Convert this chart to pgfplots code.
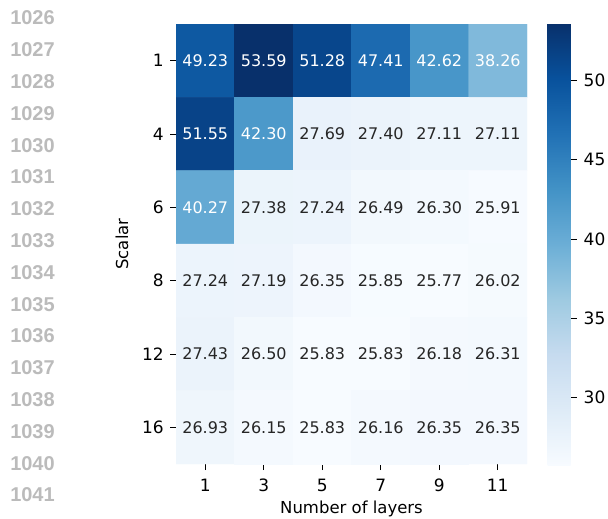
\documentclass[border=0pt]{standalone}
\usepackage{pgfplots}
\pgfplotsset{compat=1.18}
\usepackage{fontspec}
\setmainfont{DejaVu Sans}
\newfontfamily\lnfont{Liberation Sans}
\definecolor{lngray}{RGB}{187,187,187}
\definecolor{darktxt}{RGB}{38,38,38}
\pgfplotsset{
  colormap={blues}{rgb255=(247,251,255) rgb255=(222,235,247) rgb255=(198,219,239) rgb255=(158,202,225) rgb255=(107,174,214) rgb255=(66,146,198) rgb255=(33,113,181) rgb255=(8,81,156) rgb255=(8,48,107)}
}
\begin{document}
\begin{tikzpicture}
\useasboundingbox (0,0) rectangle (608bp,-519bp);
% line numbers
\foreach \n [count=\i from 0] in {1026,...,1041}{
  \node[font=\lnfont\bfseries\fontsize{20bp}{22bp}\selectfont, text=lngray, anchor=center, inner sep=0pt]
    at (32.5bp,{-(18+31.8*\i)*1bp}) {\n};
}
\begin{axis}[
  at={(176bp,-464bp)}, anchor=south west,
  scale only axis, width=351bp, height=440bp,
  colormap name=blues,
  point meta min=25.77, point meta max=53.59,
  xmin=-0.5, xmax=5.5, ymin=-0.5, ymax=5.5,
  y dir=reverse,
  enlargelimits=false,
  axis line style={draw=none},
  xtick={0,...,5}, xticklabels={1,3,5,7,9,11},
  ytick={0,...,5}, yticklabels={1,4,6,8,12,16},
  xtick pos=bottom, ytick pos=left,
  tick align=outside,
  major tick length=6bp,
  tick style={black, line width=0.8bp},
  /pgf/number format/assume math mode=true,
  ticklabel style={font=\fontsize{17bp}{20bp}\selectfont, text=black},
  xticklabel style={inner sep=0pt, anchor=north, yshift=-9bp},
  yticklabel style={inner sep=0pt, anchor=east, xshift=-6bp},
  xlabel={Number of layers},
  ylabel={Scalar},
  label style={font=\fontsize{16.5bp}{19bp}\selectfont},
  xlabel style={at={(axis description cs:0.5,0)}, anchor=base, yshift=-49bp, inner sep=0pt},
  ylabel style={at={(axis description cs:0,0.5)}, anchor=base, yshift=48bp, inner sep=0pt},
  colorbar,
  colorbar/width=23bp,
  colorbar style={
    scale only axis,
    at={(parent axis.north east)}, anchor=north west,
    xshift=12bp, yshift=1bp,
    width=23bp, height=442bp,
    axis line style={draw=none},
    ytick={30,35,40,45,50},
    ytick pos=right, yticklabel pos=right,
    tick align=outside,
    major tick length=6bp,
    tick style={black, line width=0.8bp},
    /pgf/number format/assume math mode=true,
    yticklabel style={font=\fontsize{17bp}{20bp}\selectfont, inner sep=0pt, anchor=west, xshift=7bp},
  },
]
\addplot[matrix plot*, mesh/cols=6, mesh/rows=6, point meta=explicit] table[meta=z] {
x y z
0 0 49.23
1 0 53.59
2 0 51.28
3 0 47.41
4 0 42.62
5 0 38.26
0 1 51.55
1 1 42.30
2 1 27.69
3 1 27.40
4 1 27.11
5 1 27.11
0 2 40.27
1 2 27.38
2 2 27.24
3 2 26.49
4 2 26.30
5 2 25.91
0 3 27.24
1 3 27.19
2 3 26.35
3 3 25.85
4 3 25.77
5 3 26.02
0 4 27.43
1 4 26.50
2 4 25.83
3 4 25.83
4 4 26.18
5 4 26.31
0 5 26.93
1 5 26.15
2 5 25.83
3 5 26.16
4 5 26.35
5 5 26.35
};
% white labels
\addplot[only marks, mark=*, mark size=0pt, mark options={draw=none, fill=none},
  point meta=explicit symbolic, nodes near coords,
  every node near coord/.append style={anchor=center, text=white, inner sep=0pt, font=\fontsize{16bp}{18bp}\selectfont}]
  table[meta=lab] {
x y lab
0 0 49.23
1 0 53.59
2 0 51.28
3 0 47.41
4 0 42.62
5 0 38.26
0 1 51.55
1 1 42.30
0 2 40.27
};
% dark labels
\addplot[only marks, mark=*, mark size=0pt, mark options={draw=none, fill=none},
  point meta=explicit symbolic, nodes near coords,
  every node near coord/.append style={anchor=center, text=darktxt, inner sep=0pt, font=\fontsize{16bp}{18bp}\selectfont}]
  table[meta=lab] {
x y lab
2 1 27.69
3 1 27.40
4 1 27.11
5 1 27.11
1 2 27.38
2 2 27.24
3 2 26.49
4 2 26.30
5 2 25.91
0 3 27.24
1 3 27.19
2 3 26.35
3 3 25.85
4 3 25.77
5 3 26.02
0 4 27.43
1 4 26.50
2 4 25.83
3 4 25.83
4 4 26.18
5 4 26.31
0 5 26.93
1 5 26.15
2 5 25.83
3 5 26.16
4 5 26.35
5 5 26.35
};
\end{axis}
\end{tikzpicture}
\end{document}
